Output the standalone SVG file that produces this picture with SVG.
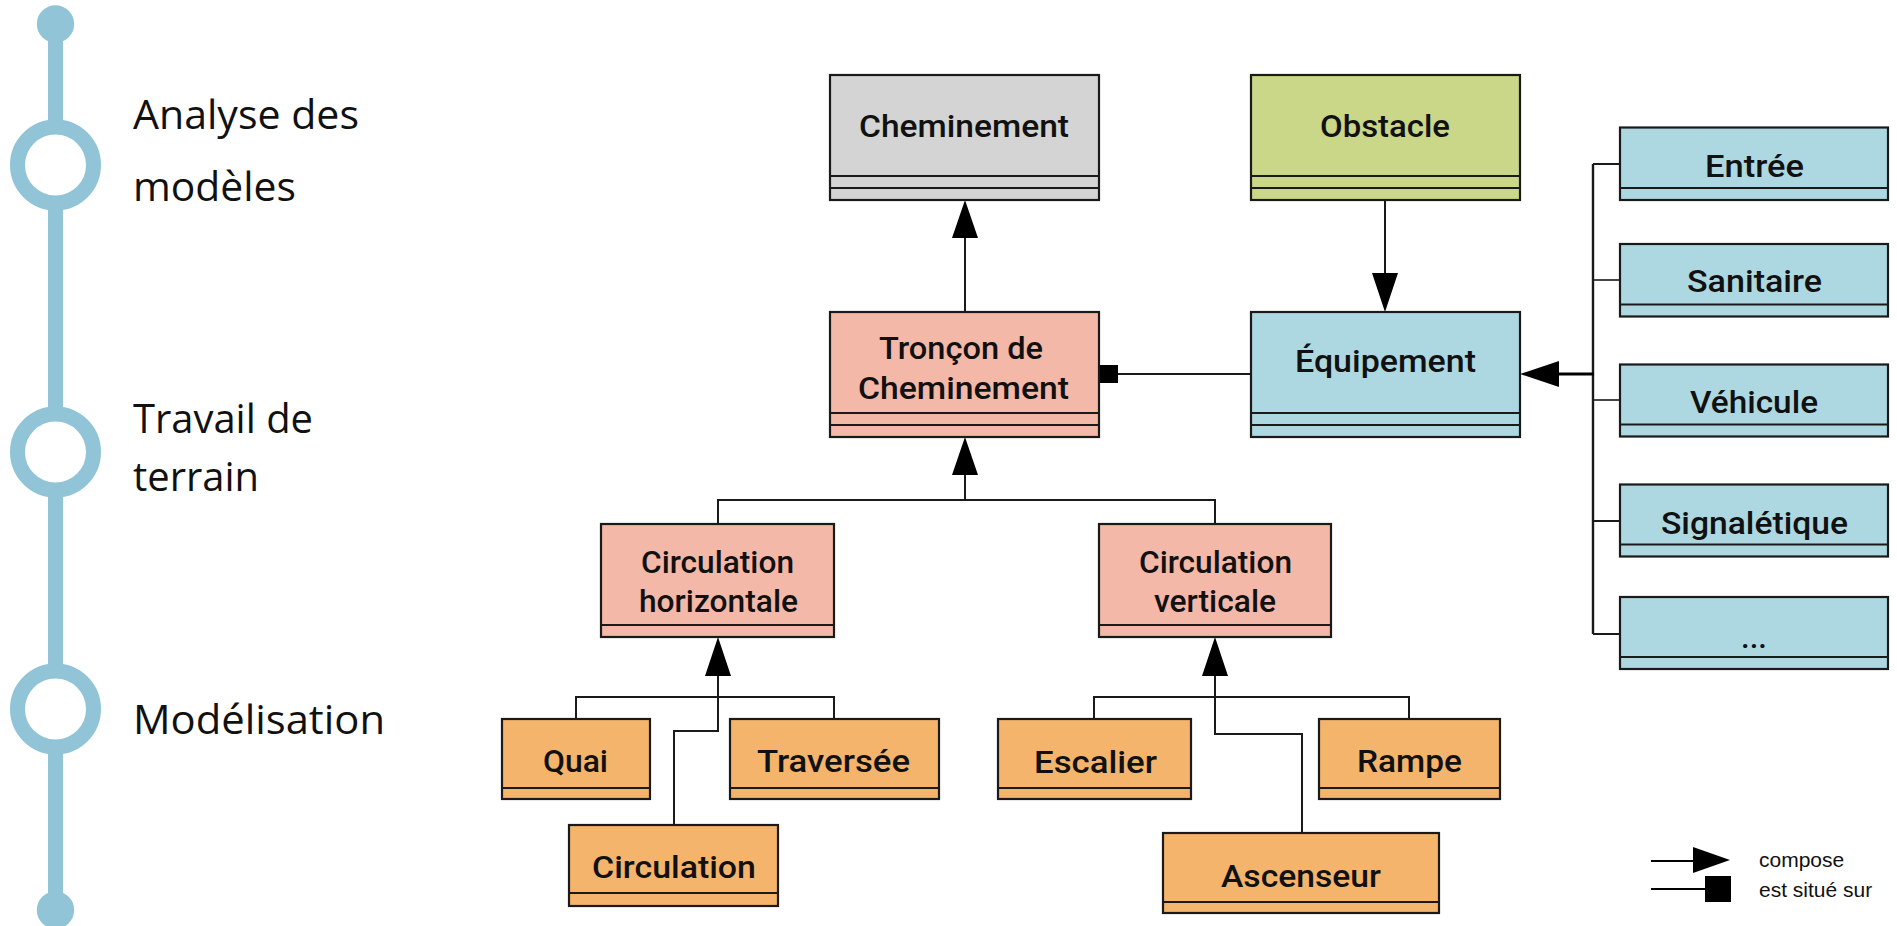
<svg xmlns="http://www.w3.org/2000/svg" width="1897" height="926" viewBox="0 0 1897 926">
<defs>
<style>
.box{stroke:#1a1a1a;stroke-width:2.2}
.div{stroke:#1a1a1a;stroke-width:2.2;fill:none}
.grey{fill:#D3D4D3}
.green{fill:#CAD688}
.salmon{fill:#F4B8A8}
.blue{fill:#ADD8E1}
.orange{fill:#F4B46C}
.lbl{font-family:Roboto,"Liberation Sans",sans-serif;font-weight:500;font-size:31px;fill:#111;text-anchor:middle}
.tl{font-family:"Open Sans","Liberation Sans",sans-serif;font-size:40px;fill:#111}
.leg{font-family:"Liberation Sans",Arial,sans-serif;font-size:21px;fill:#111}
.con{stroke:#1a1a1a;stroke-width:2;fill:none}
.head{fill:#000}
</style>
</defs>
<rect width="1897" height="926" fill="#fff"/>

<g id="timeline">
<line x1="55.5" y1="24" x2="55.5" y2="910" stroke="#91C4D6" stroke-width="15"/>
<circle cx="55.5" cy="24" r="18.7" fill="#91C4D6"/>
<circle cx="55.5" cy="910" r="18.7" fill="#91C4D6"/>
<circle cx="55.5" cy="165" r="38" fill="#fff" stroke="#91C4D6" stroke-width="15"/>
<circle cx="55.5" cy="452" r="38" fill="#fff" stroke="#91C4D6" stroke-width="15"/>
<circle cx="55.5" cy="709" r="38" fill="#fff" stroke="#91C4D6" stroke-width="15"/>
<text class="tl" x="133" y="129" textLength="226" lengthAdjust="spacingAndGlyphs">Analyse des</text>
<text class="tl" x="133" y="201" textLength="163" lengthAdjust="spacingAndGlyphs">modèles</text>
<text class="tl" x="133" y="433" textLength="180" lengthAdjust="spacingAndGlyphs">Travail de</text>
<text class="tl" x="133" y="491" textLength="126" lengthAdjust="spacingAndGlyphs">terrain</text>
<text class="tl" x="133" y="734" textLength="252" lengthAdjust="spacingAndGlyphs">Modélisation</text>
</g>

<g id="connectors">
<!-- Troncon -> Cheminement -->
<line class="con" x1="965" y1="312" x2="965" y2="236"/>
<polygon class="head" points="965,200 952,238 978,238"/>
<!-- Obstacle -> Equipement -->
<line class="con" x1="1385" y1="200" x2="1385" y2="275"/>
<polygon class="head" points="1385,312 1372,273 1398,273"/>
<!-- Equipement -> Troncon (est situe sur) -->
<line class="con" x1="1117" y1="374" x2="1251" y2="374"/>
<rect x="1099" y="365" width="19" height="18" fill="#000"/>
<!-- Circulation H/V -> Troncon -->
<polyline class="con" points="718,524 718,500 1215,500 1215,524"/>
<line class="con" x1="965" y1="500" x2="965" y2="473"/>
<polygon class="head" points="965,437 952,475 978,475"/>
<!-- leaves -> Circulation horizontale -->
<polyline class="con" points="576,719 576,697 834,697 834,719"/>
<polyline class="con" points="718,674 718,731 674,731 674,825"/>
<polygon class="head" points="718,637 705,676 731,676"/>
<!-- leaves -> Circulation verticale -->
<polyline class="con" points="1094,719 1094,697 1409,697 1409,719"/>
<polyline class="con" points="1215,674 1215,734 1302,734 1302,833"/>
<polygon class="head" points="1215,637 1202,676 1228,676"/>
<!-- right column -> Equipement -->
<line x1="1593" y1="164" x2="1593" y2="634" stroke="#1a1a1a" stroke-width="2.4"/>
<line x1="1593" y1="164" x2="1620" y2="164" stroke="#1a1a1a" stroke-width="2"/>
<line x1="1593" y1="280" x2="1620" y2="280" stroke="#1a1a1a" stroke-width="1.6"/>
<line x1="1593" y1="400" x2="1620" y2="400" stroke="#1a1a1a" stroke-width="1.6"/>
<line x1="1593" y1="521" x2="1620" y2="521" stroke="#1a1a1a" stroke-width="2"/>
<line x1="1593" y1="634" x2="1620" y2="634" stroke="#1a1a1a" stroke-width="2"/>
<line x1="1557" y1="374" x2="1594" y2="374" stroke="#000" stroke-width="3"/>
<polygon class="head" points="1520,374 1559,361 1559,387"/>
</g>

<g id="node-cheminement">
<rect class="box grey" x="830" y="75" width="269" height="125"/>
<line class="div" x1="830" y1="176" x2="1099" y2="176"/>
<line class="div" x1="830" y1="188" x2="1099" y2="188"/>
<text class="lbl" x="964" y="137" textLength="210" lengthAdjust="spacingAndGlyphs">Cheminement</text>
</g>
<g id="node-obstacle">
<rect class="box green" x="1251" y="75" width="269" height="125"/>
<line class="div" x1="1251" y1="176" x2="1520" y2="176"/>
<line class="div" x1="1251" y1="188" x2="1520" y2="188"/>
<text class="lbl" x="1385" y="137" textLength="130" lengthAdjust="spacingAndGlyphs">Obstacle</text>
</g>
<g id="node-troncon">
<rect class="box salmon" x="830" y="312" width="269" height="125"/>
<line class="div" x1="830" y1="413" x2="1099" y2="413"/>
<line class="div" x1="830" y1="425" x2="1099" y2="425"/>
<text class="lbl" x="961" y="359" textLength="164" lengthAdjust="spacingAndGlyphs">Tronçon de</text>
<text class="lbl" x="963.5" y="399" textLength="211" lengthAdjust="spacingAndGlyphs">Cheminement</text>
</g>
<g id="node-equipement">
<rect class="box blue" x="1251" y="312" width="269" height="125"/>
<line class="div" x1="1251" y1="413" x2="1520" y2="413"/>
<line class="div" x1="1251" y1="425" x2="1520" y2="425"/>
<text class="lbl" x="1385.5" y="372" textLength="181" lengthAdjust="spacingAndGlyphs">Équipement</text>
</g>

<g id="node-entree">
<rect class="box blue" x="1620" y="127.5" width="268" height="72.5"/>
<line class="div" x1="1620" y1="188" x2="1888" y2="188"/>
<text class="lbl" x="1754.5" y="177" textLength="99" lengthAdjust="spacingAndGlyphs">Entrée</text>
</g>
<g id="node-sanitaire">
<rect class="box blue" x="1620" y="244" width="268" height="72.5"/>
<line class="div" x1="1620" y1="304.5" x2="1888" y2="304.5"/>
<text class="lbl" x="1754.5" y="292" textLength="135" lengthAdjust="spacingAndGlyphs">Sanitaire</text>
</g>
<g id="node-vehicule">
<rect class="box blue" x="1620" y="364.5" width="268" height="72"/>
<line class="div" x1="1620" y1="424.5" x2="1888" y2="424.5"/>
<text class="lbl" x="1754" y="413" textLength="128" lengthAdjust="spacingAndGlyphs">Véhicule</text>
</g>
<g id="node-signaletique">
<rect class="box blue" x="1620" y="484.5" width="268" height="72"/>
<line class="div" x1="1620" y1="544.5" x2="1888" y2="544.5"/>
<text class="lbl" x="1754.5" y="534" textLength="187" lengthAdjust="spacingAndGlyphs">Signalétique</text>
</g>
<g id="node-autres">
<rect class="box blue" x="1620" y="597" width="268" height="72"/>
<line class="div" x1="1620" y1="657" x2="1888" y2="657"/>
<text class="lbl" x="1754" y="648">...</text>
</g>

<g id="node-circ-horizontale">
<rect class="box salmon" x="601" y="524" width="233" height="113"/>
<line class="div" x1="601" y1="625" x2="834" y2="625"/>
<text class="lbl" x="717.5" y="573" textLength="153" lengthAdjust="spacingAndGlyphs">Circulation</text>
<text class="lbl" x="718.5" y="612" textLength="159" lengthAdjust="spacingAndGlyphs">horizontale</text>
</g>
<g id="node-circ-verticale">
<rect class="box salmon" x="1099" y="524" width="232" height="113"/>
<line class="div" x1="1099" y1="625" x2="1331" y2="625"/>
<text class="lbl" x="1215.5" y="573" textLength="153" lengthAdjust="spacingAndGlyphs">Circulation</text>
<text class="lbl" x="1215" y="612" textLength="122" lengthAdjust="spacingAndGlyphs">verticale</text>
</g>

<g id="node-quai">
<rect class="box orange" x="502" y="719" width="148" height="80"/>
<line class="div" x1="502" y1="788" x2="650" y2="788"/>
<text class="lbl" x="575.5" y="772" textLength="65" lengthAdjust="spacingAndGlyphs">Quai</text>
</g>
<g id="node-traversee">
<rect class="box orange" x="730" y="719" width="209" height="80"/>
<line class="div" x1="730" y1="788" x2="939" y2="788"/>
<text class="lbl" x="833.5" y="772" textLength="153" lengthAdjust="spacingAndGlyphs">Traversée</text>
</g>
<g id="node-circulation">
<rect class="box orange" x="569" y="825" width="209" height="81"/>
<line class="div" x1="569" y1="893" x2="778" y2="893"/>
<text class="lbl" x="674" y="878" textLength="164" lengthAdjust="spacingAndGlyphs">Circulation</text>
</g>
<g id="node-escalier">
<rect class="box orange" x="998" y="719" width="193" height="80"/>
<line class="div" x1="998" y1="788" x2="1191" y2="788"/>
<text class="lbl" x="1095.5" y="773" textLength="123" lengthAdjust="spacingAndGlyphs">Escalier</text>
</g>
<g id="node-rampe">
<rect class="box orange" x="1319" y="719" width="181" height="80"/>
<line class="div" x1="1319" y1="788" x2="1500" y2="788"/>
<text class="lbl" x="1409.5" y="772" textLength="105" lengthAdjust="spacingAndGlyphs">Rampe</text>
</g>
<g id="node-ascenseur">
<rect class="box orange" x="1163" y="833" width="276" height="80"/>
<line class="div" x1="1163" y1="902" x2="1439" y2="902"/>
<text class="lbl" x="1301" y="887" textLength="160" lengthAdjust="spacingAndGlyphs">Ascenseur</text>
</g>

<g id="legend">
<line x1="1651" y1="861" x2="1695" y2="861" stroke="#000" stroke-width="2"/>
<polygon points="1730,860 1693,847 1693,873" fill="#000"/>
<line x1="1651" y1="889" x2="1706" y2="889" stroke="#000" stroke-width="2"/>
<rect x="1705" y="876" width="26" height="26" fill="#000"/>
<text class="leg" x="1759" y="867">compose</text>
<text class="leg" x="1759" y="897">est situé sur</text>
</g>
</svg>
